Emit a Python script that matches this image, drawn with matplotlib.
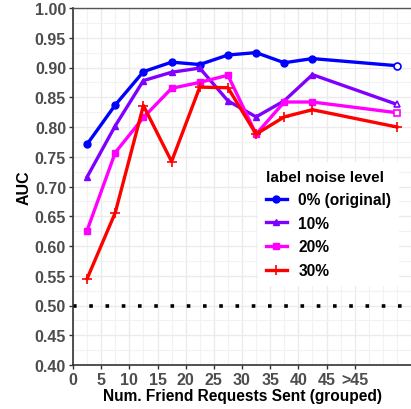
import numpy as np
import matplotlib.pyplot as plt
from matplotlib.ticker import MultipleLocator

plt.rcParams['font.family'] = ['Liberation Sans', 'DejaVu Sans']
plt.rcParams['font.weight'] = 'bold'

# grouped friend-request bins (bin centres), last one is the ">45" group
x_vals = [2.5, 7.5, 12.5, 17.5, 22.5, 27.5, 32.5, 37.5, 42.5, 57.5]
auc_0 = [0.771, 0.837, 0.893, 0.909, 0.905, 0.921, 0.925, 0.908, 0.915, 0.903]
auc_10 = [0.716, 0.802, 0.878, 0.892, 0.899, 0.844, 0.817, 0.844, 0.888, 0.838]
auc_20 = [0.626, 0.757, 0.816, 0.865, 0.875, 0.887, 0.788, 0.842, 0.842, 0.824]
auc_30 = [0.545, 0.656, 0.836, 0.742, 0.867, 0.866, 0.788, 0.817, 0.829, 0.800]

labels = ['0% (original)', '10%', '20%', '30%']
colors = ['#0000FF', '#7F00FF', '#FF00FF', '#FF0000']
markers = ['o', '^', 's', '+']
xtick_pos = [0, 5, 10, 15, 20, 25, 30, 35, 40, 45, 50]
xtick_labels = ['0', '5', '10', '15', '20', '25', '30', '35', '40', '45', '>45']

fig = plt.figure(figsize=(4.11, 4.10), dpi=100)
ax = fig.add_axes([73 / 411, 1 - 366 / 410, 1 - 73 / 411, (366 - 9) / 410])

series = [auc_0, auc_10, auc_20, auc_30]
handles = []
for ys, c, m, lab in zip(series, colors, markers, labels):
    ms = 7 if m == '+' else 5
    h, = ax.plot(x_vals[:-1], ys[:-1], color=c, lw=2.4, marker=m, ms=ms,
                 mew=1.2 if m == '+' else 1, label=lab, zorder=3)
    ax.plot(x_vals[-2:], ys[-2:], color=c, lw=2.4, zorder=3)
    ax.plot(x_vals[-1], ys[-1], marker=m, ms=ms, mfc='white', mec=c,
            mew=1.2, ls='none', zorder=4)
    handles.append(h)

ax.axhline(0.5, color='black', ls=(0, (1, 3.5)), lw=2.6, zorder=2)

ax.set_xlim(0, 60)
ax.set_ylim(0.4, 1.0)
ax.set_xticks(xtick_pos)
ax.set_xticklabels(xtick_labels)
ax.xaxis.set_minor_locator(MultipleLocator(2.5))
ax.yaxis.set_major_locator(MultipleLocator(0.05))
ax.yaxis.set_minor_locator(MultipleLocator(0.025))
ax.yaxis.set_major_formatter(plt.FormatStrFormatter('%.2f'))

ax.grid(which='major', color='#EBEBEB', lw=1.0)
ax.grid(which='minor', color='#F2F2F2', lw=0.8)
ax.set_axisbelow(True)

ax.tick_params(which='major', length=3, width=1, color='#333333',
               labelsize=11.5, labelcolor='#4D4D4D', pad=2)
ax.tick_params(which='minor', length=0)
for lab in ax.get_xticklabels() + ax.get_yticklabels():
    lab.set_fontweight('bold')

for s in ['left', 'bottom']:
    ax.spines[s].set_color('#333333')
    ax.spines[s].set_linewidth(1.2)
ax.spines['top'].set_color('#555555')
ax.spines['top'].set_linewidth(1.0)
ax.spines['right'].set_visible(False)

ax.set_xlabel('Num. Friend Requests Sent (grouped)', fontsize=11.2,
              fontweight='bold', labelpad=1)
ax.set_ylabel('AUC', fontsize=11.5, fontweight='bold', labelpad=2)

leg = fig.legend(handles=handles, title='label noise level',
                 loc='upper left', bbox_to_anchor=(258 / 411, 1 - 163 / 410),
                 frameon=True, fancybox=False, edgecolor='none',
                 facecolor='white', framealpha=1, fontsize=11.2,
                 title_fontsize=11, handlelength=1.35, handletextpad=0.75,
                 labelspacing=0.55, borderpad=0.5, borderaxespad=0,
                 alignment='left')
leg.get_title().set_fontweight('bold')
for t in leg.get_texts():
    t.set_fontweight('bold')

fig.savefig('out.png', dpi=100)
